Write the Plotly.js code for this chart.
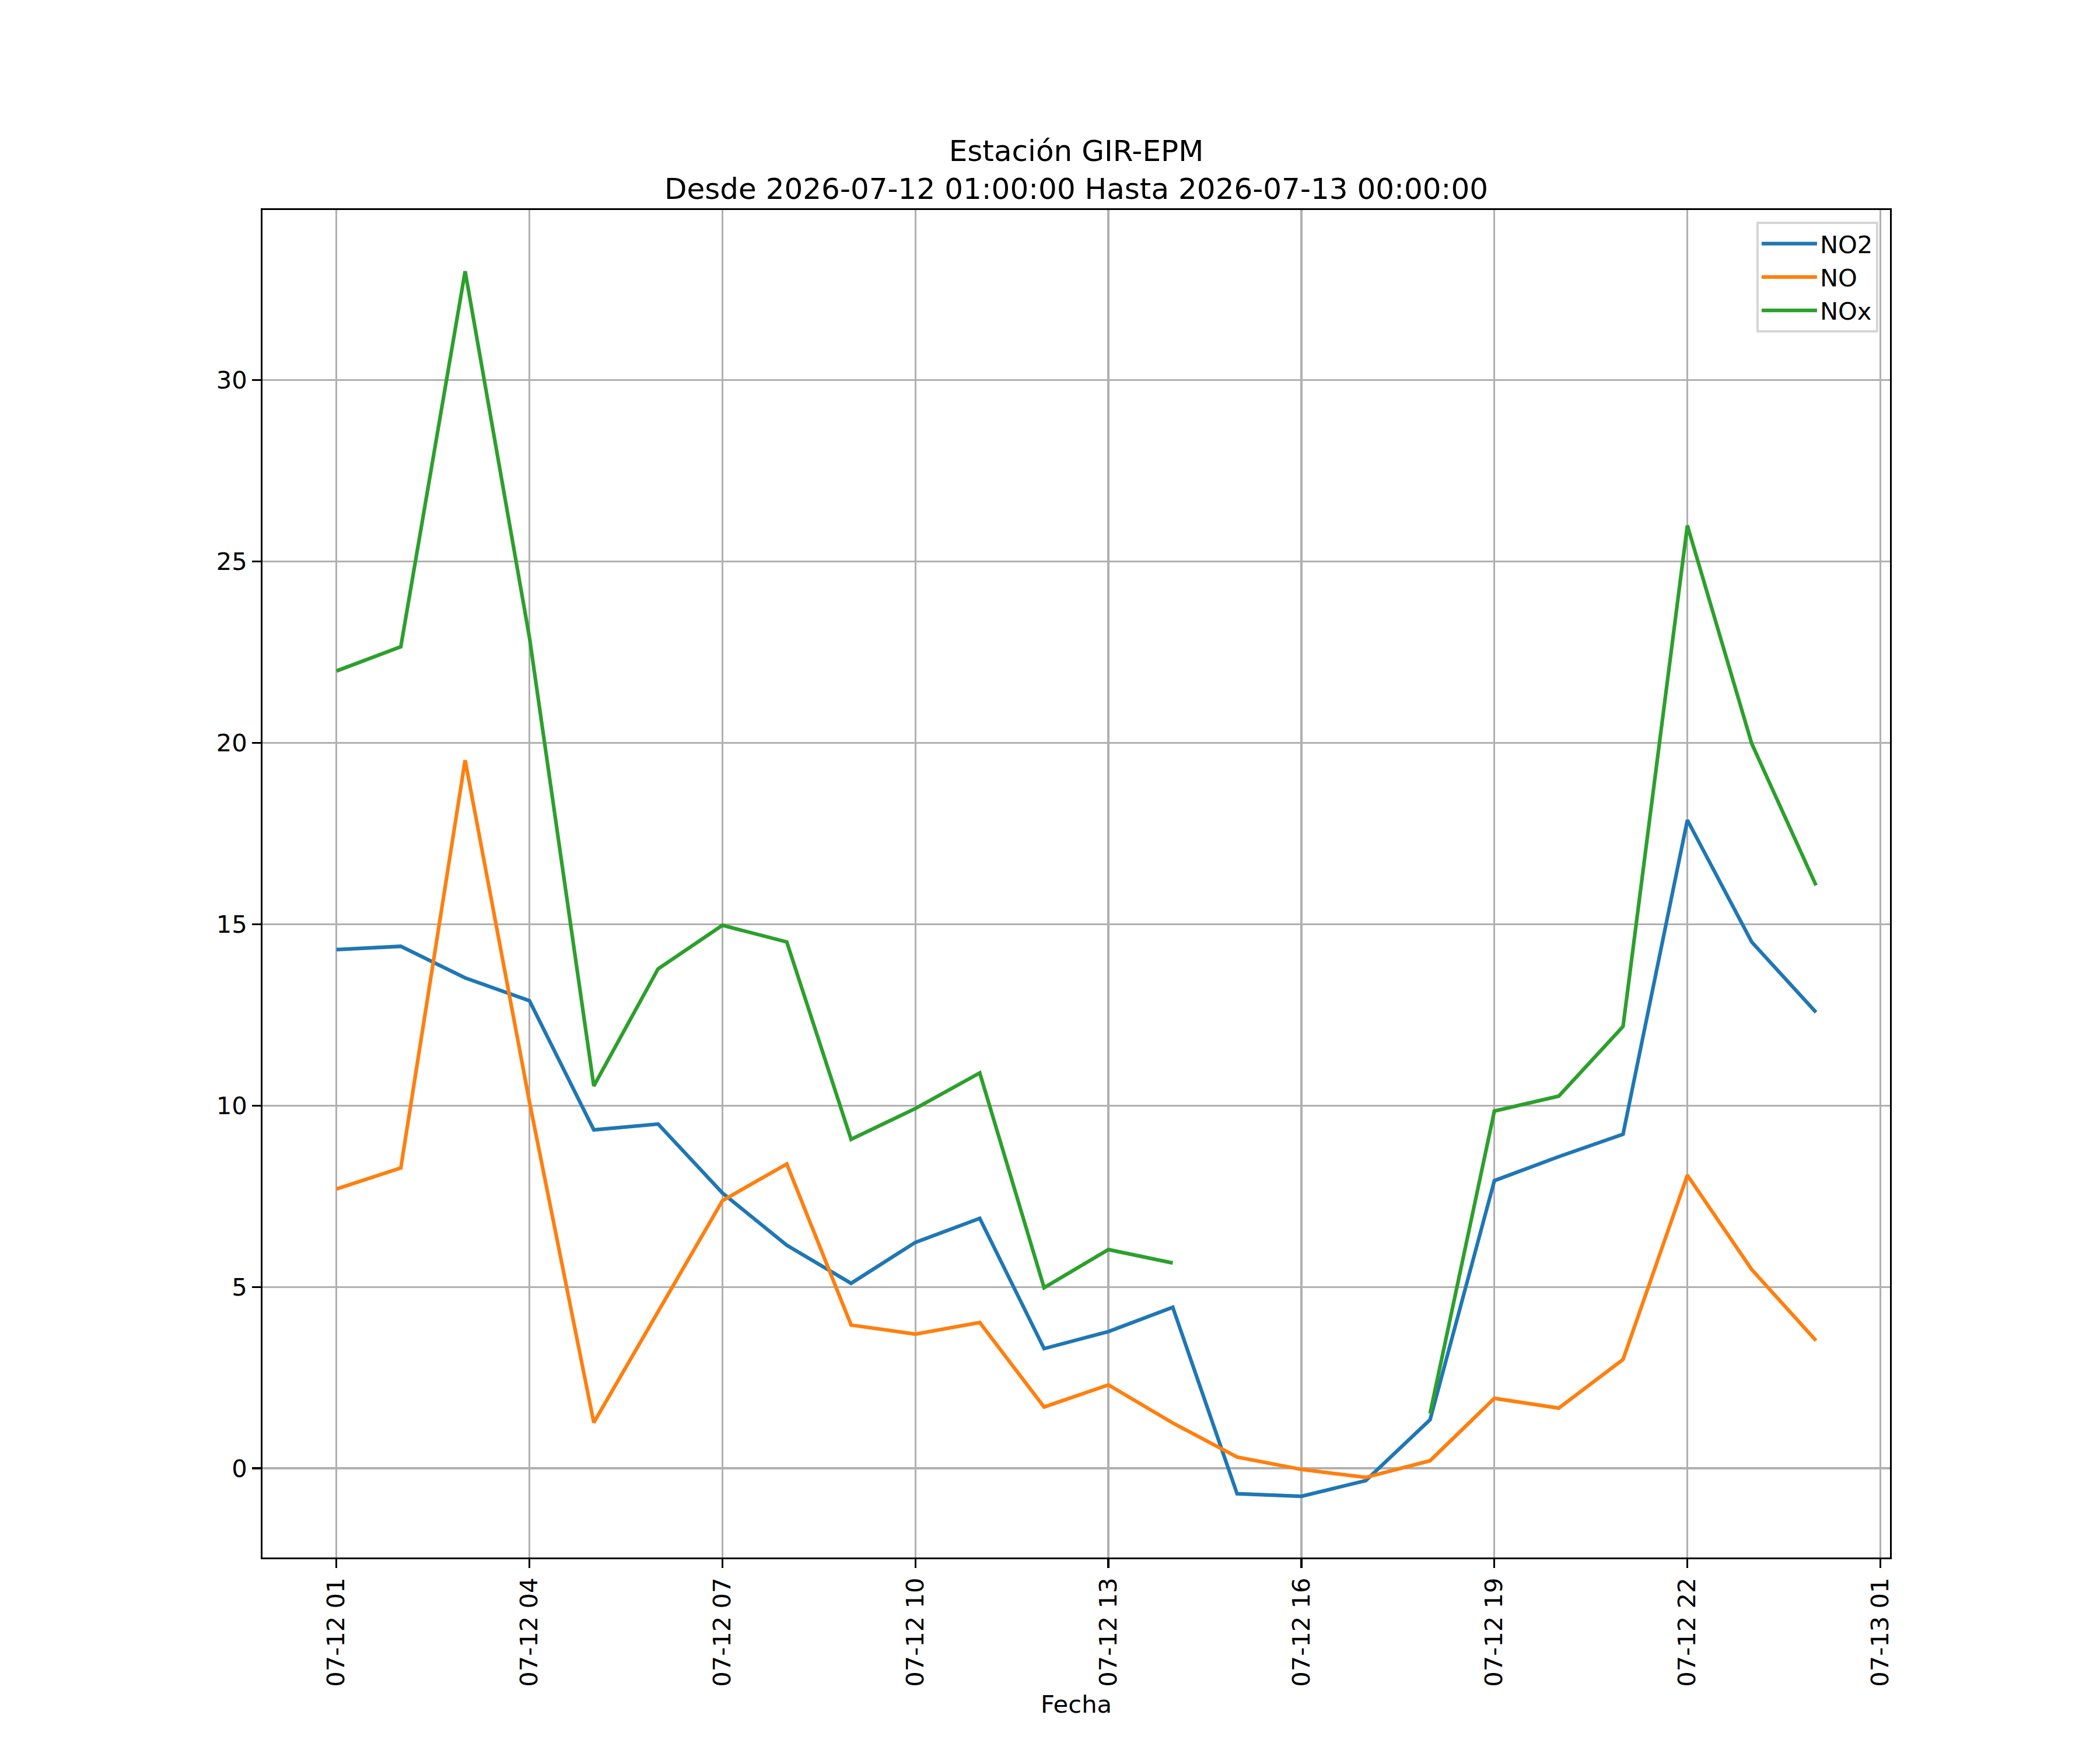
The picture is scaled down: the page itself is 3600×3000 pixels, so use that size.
<!DOCTYPE html>
<html>
<head>
<meta charset="utf-8">
<script src="https://cdn.plot.ly/plotly-3.0.1.min.js"></script>
<style>
  body { margin: 0; background: #fff; }
  #chart { width: 3600px; height: 3000px; }
</style>
</head>
<body>
<div id="chart"></div>
<script>
// hourly readings, estacion GIR-EPM
var fechas = [
  "2026-07-12 01:00", "2026-07-12 02:00", "2026-07-12 03:00", "2026-07-12 04:00",
  "2026-07-12 05:00", "2026-07-12 06:00", "2026-07-12 07:00", "2026-07-12 08:00",
  "2026-07-12 09:00", "2026-07-12 10:00", "2026-07-12 11:00", "2026-07-12 12:00",
  "2026-07-12 13:00", "2026-07-12 14:00", "2026-07-12 15:00", "2026-07-12 16:00",
  "2026-07-12 17:00", "2026-07-12 18:00", "2026-07-12 19:00", "2026-07-12 20:00",
  "2026-07-12 21:00", "2026-07-12 22:00", "2026-07-12 23:00", "2026-07-13 00:00"
];
var no2 = [14.30, 14.39, 13.52, 12.89, 9.33, 9.49, 7.59, 6.15, 5.10, 6.23, 6.89, 3.30,
           3.77, 4.44, -0.70, -0.77, -0.34, 1.34, 7.93, 8.59, 9.21, 17.87, 14.51, 12.57];
var no = [7.70, 8.28, 19.52, 10.1, 1.26, 4.3, 7.38, 8.39, 3.95, 3.70, 4.02, 1.69,
          2.30, 1.25, 0.31, -0.03, -0.25, 0.21, 1.93, 1.66, 3.00, 8.08, 5.48, 3.52];
var nox = [21.98, 22.65, 33.0, 22.9, 10.54, 13.77, 14.97, 14.51, 9.07, 9.92, 10.90, 4.98,
           6.03, 5.66, null, null, null, 1.51, 9.85, 10.26, 12.18, 25.99, 19.98, 16.07];

var pt = 300 / 72;  // px per point at 300 dpi

// matplotlib-like 5% autoscale margins on y
var todos = no2.concat(no, nox).filter(function (v) { return v !== null; });
var yMin = Math.min.apply(null, todos), yMax = Math.max.apply(null, todos);
var yPad = (yMax - yMin) * 0.05;

var font = { family: "DejaVu Sans", size: 10 * pt, color: "#000" };

var data = [
  { x: fechas, y: no2, name: "NO2", type: "scatter", mode: "lines",
    line: { color: "#1f77b4", width: 1.5 * pt } },
  { x: fechas, y: no, name: "NO", type: "scatter", mode: "lines",
    line: { color: "#ff7f0e", width: 1.5 * pt } },
  { x: fechas, y: nox, name: "NOx", type: "scatter", mode: "lines",
    line: { color: "#2ca02c", width: 1.5 * pt } }
];

var layout = {
  width: 3600,
  height: 3000,
  margin: { l: 450, r: 360, t: 360, b: 330 },
  paper_bgcolor: "#fff",
  plot_bgcolor: "#fff",
  font: font,
  showlegend: true,
  title: {
    text: "Estación GIR-EPM<br>Desde 2026-07-12 01:00:00 Hasta 2026-07-13 00:00:00",
    font: { family: "DejaVu Sans", size: 12 * pt, color: "#000" },
    xref: "paper", x: 0.5, xanchor: "center",
    yref: "container", y: 1 - 276 / 3000, yanchor: "middle"
  },
  xaxis: {
    type: "date",
    range: ["2026-07-11 23:51:00", "2026-07-13 01:09:00"],
    tick0: "2026-07-12 01:00",
    dtick: 3 * 3600 * 1000,
    tickformat: "%m-%d %H",
    tickangle: -90,
    ticks: "outside", ticklen: 3.5 * pt, tickwidth: 0.8 * pt, tickcolor: "#000",
    showgrid: true, gridcolor: "#b0b0b0", gridwidth: 0.8 * pt,
    showline: true, linecolor: "#000", linewidth: 0.8 * pt, mirror: true,
    zeroline: false,
    tickfont: font,
    title: { text: "Fecha", font: font, standoff: 17 }
  },
  yaxis: {
    range: [yMin - yPad, yMax + yPad],
    tick0: 0, dtick: 5,
    ticks: "outside", ticklen: 3.5 * pt, tickwidth: 0.8 * pt, tickcolor: "#000",
    showgrid: true, gridcolor: "#b0b0b0", gridwidth: 0.8 * pt,
    showline: true, linecolor: "#000", linewidth: 0.8 * pt, mirror: true,
    zeroline: false,
    tickfont: font
  },
  legend: {
    x: 0.9928, xanchor: "right",
    y: 0.9913, yanchor: "top",
    bgcolor: "rgba(255,255,255,0.8)",
    bordercolor: "#d6d6d6",
    borderwidth: 4,
    font: font,
    itemwidth: 95
  }
};

Plotly.newPlot("chart", data, layout, { staticPlot: true });
</script>
</body>
</html>
